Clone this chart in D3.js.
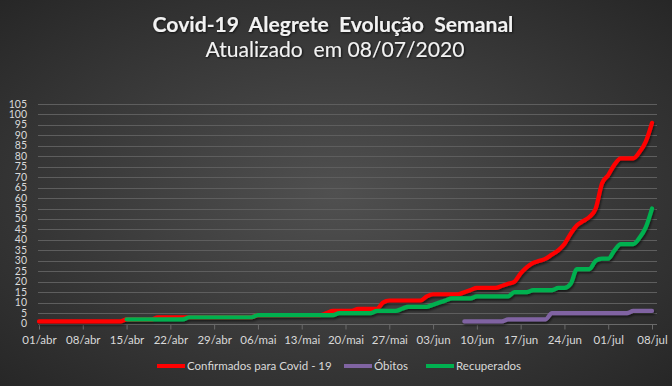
<!DOCTYPE html>
<html lang="pt">
<head>
<meta charset="utf-8">
<title>Covid-19 Alegrete Evolução Semanal</title>
<script src="https://d3js.org/d3.v7.min.js"></script>
<style>
  body { margin: 0; background: #2a2a2a; }
  svg text { font-family: Lato, "Open Sans", sans-serif; }
</style>
</head>
<body>
<svg id="chart"></svg>
<script>

// daily values
const confirmedStart = "2020-04-01";
const confirmed = [1,1,1,1,1,1,1,1,1,1,1,1,1,1,
    2,2,2,2,2,
    3,3,3,3,3,3,3,3,3,3,3,3,3,3,3,3,
    4,4,4,4,4,4,4,4,4,4,4,
    5,6,6,6,6,7,7,7,7,10,11,11,11,11,11,11,13,14,14,14,14,14,
    15,16,17,17,17,17,18,19,20,24,27,29,30,31,33,35,38,43,47,49,51,55,
    67,71,76,79,79,79,82,87,96];

const deathsStart = "2020-06-08";
const deaths = [1,1,1,1,1,1,1,2,2,2,2,2,2,2,
    5,5,5,5,5,5,5,5,5,5,5,5,5,6,6,6,6];

const recoveredStart = "2020-04-15";
const recovered = [2,2,2,2,2,2,2,2,2,2,
    3,3,3,3,3,3,3,3,3,3,3,
    4,4,4,4,4,4,4,4,4,4,4,4,4,
    5,5,5,5,5,5,6,6,6,6,7,8,8,8,8,9,10,11,12,12,12,12,
    13,13,13,13,13,13,15,15,15,16,16,16,16,17,17,19,26,26,26,30,31,31,35,
    38,38,38,41,46,55];

const seriesNames = ["Confirmados para Covid - 19", "Óbitos", "Recuperados"];
const seriesColors = ["#ff0000", "#8064a2", "#00b050"];

const tickDates = ["2020-04-01","2020-04-08","2020-04-15","2020-04-22","2020-04-29",
    "2020-05-06","2020-05-13","2020-05-20","2020-05-27","2020-06-03",
    "2020-06-10","2020-06-17","2020-06-24","2020-07-01","2020-07-08"];
const yTicks = d3.range(0, 106, 5);

const titleText = "Covid-19  Alegrete  Evolução  Semanal";
const subtitleText = "Atualizado  em 08/07/2020";

const width = 672, height = 386;
const parse = d3.timeParse("%Y-%m-%d");
const ptBR = d3.timeFormatLocale({
    dateTime: "%d/%m/%Y %H:%M:%S", date: "%d/%m/%Y", time: "%H:%M:%S",
    periods: ["AM", "PM"],
    days: ["domingo","segunda","terça","quarta","quinta","sexta","sábado"],
    shortDays: ["dom","seg","ter","qua","qui","sex","sáb"],
    months: ["janeiro","fevereiro","março","abril","maio","junho","julho","agosto","setembro","outubro","novembro","dezembro"],
    shortMonths: ["jan","fev","mar","abr","mai","jun","jul","ago","set","out","nov","dez"]
});
const fmt = ptBR.format("%d/%b");

function toPoints(start, values) {
    let d0 = parse(start);
    return values.map((v, i) => ({date: d3.timeDay.offset(d0, i), value: v}));
}
const series = [
    toPoints(confirmedStart, confirmed),
    toPoints(deathsStart, deaths),
    toPoints(recoveredStart, recovered)
];

let svg = d3.select("#chart")
    .attr("width", width)
    .attr("height", height);

let defs = svg.append("defs");
let grad = defs.append("radialGradient")
    .attr("id", "bg")
    .attr("cx", "50%").attr("cy", "50%").attr("r", "75%");
grad.append("stop").attr("offset", "0%").attr("stop-color", "#505050");
grad.append("stop").attr("offset", "100%").attr("stop-color", "#242424");

let shadow = defs.append("filter").attr("id", "shadow")
    .attr("x", "-5%").attr("y", "-5%").attr("width", "110%").attr("height", "120%");
shadow.append("feDropShadow")
    .attr("dx", 1).attr("dy", 2).attr("stdDeviation", 1.2)
    .attr("flood-color", "#000").attr("flood-opacity", 0.55);

let txtShadow = defs.append("filter").attr("id", "tshadow");
txtShadow.append("feDropShadow")
    .attr("dx", 0.8).attr("dy", 0.8).attr("stdDeviation", 0.8)
    .attr("flood-color", "#000").attr("flood-opacity", 0.8);

svg.append("rect")
    .attr("width", width).attr("height", height)
    .attr("fill", "url(#bg)");

let x = d3.scaleTime()
    .domain([parse(tickDates[0]), parse(tickDates[tickDates.length - 1])])
    .range([39, 652]);
let y = d3.scaleLinear()
    .domain([0, 105])
    .range([323.5, 104]);
const plotLeft = 38, plotRight = 657;

// gridlines
svg.append("g").attr("id", "grid")
    .selectAll("line")
    .data(yTicks.filter(v => v > 0))
    .join("line")
        .attr("x1", plotLeft).attr("x2", plotRight)
        .attr("y1", d => Math.round(y(d)) + 0.5)
        .attr("y2", d => Math.round(y(d)) + 0.5)
        .attr("stroke", "#5e5e5e")
        .attr("stroke-width", 1);

// y labels
svg.append("g").attr("id", "ylabels")
    .selectAll("text")
    .data(yTicks)
    .join("text")
        .attr("x", 27)
        .attr("y", d => y(d) + 3.5)
        .attr("text-anchor", "end")
        .attr("font-size", 10.5)
        .attr("fill", "#d9d9d9")
        .text(d => d);

// x axis
let xAxis = d3.axisBottom(x)
    .tickValues(tickDates.map(parse))
    .tickFormat(fmt)
    .tickSize(5)
    .tickPadding(6)
    .tickSizeOuter(0);
let gx = svg.append("g")
    .attr("transform", `translate(0,${Math.round(y(0)) + 0.5})`)
    .call(xAxis);
gx.select(".domain").attr("d", `M${plotLeft},0H${plotRight}`).attr("stroke", "#6a6a6a");
gx.selectAll(".tick line").attr("stroke", "#6a6a6a");
gx.selectAll(".tick text")
    .attr("fill", "#d9d9d9")
    .attr("font-size", 11.5)
    .attr("font-family", "Lato, 'Open Sans', sans-serif");

// lines
let line = d3.line()
    .x(d => x(d.date))
    .y(d => y(d.value))
    .curve(d3.curveMonotoneX);

svg.append("g").attr("id", "lines")
    .attr("filter", "url(#shadow)")
    .selectAll("path")
    .data(series)
    .join("path")
        .attr("d", line)
        .attr("fill", "none")
        .attr("stroke", (d, i) => seriesColors[i])
        .attr("stroke-width", 4.2)
        .attr("stroke-linejoin", "round")
        .attr("stroke-linecap", "round");

// titles
let title = svg.append("text")
    .attr("x", 333).attr("y", 32)
    .attr("text-anchor", "middle")
    .attr("font-size", 19)
    .attr("font-weight", "bold")
    .attr("fill", "#f2f2f2")
    .attr("filter", "url(#tshadow)")
    .style("white-space", "pre")
    .text(titleText);
let subtitle = svg.append("text")
    .attr("x", 335).attr("y", 57)
    .attr("text-anchor", "middle")
    .attr("font-size", 19)
    .attr("fill", "#f2f2f2")
    .attr("filter", "url(#tshadow)")
    .style("white-space", "pre")
    .text(subtitleText);

function fitWidth(sel, target) {
    let w = sel.node().getComputedTextLength();
    let fs = +sel.attr("font-size");
    sel.attr("font-size", fs * target / w);
}
fitWidth(title, 361);
fitWidth(subtitle, 259);

// legend
const legendX = [157, 344, 426];
let legend = svg.append("g").attr("id", "legend");
seriesNames.forEach((name, i) => {
    let g = legend.append("g").attr("transform", `translate(${legendX[i]},366)`);
    g.append("line")
        .attr("x1", 0).attr("x2", 28)
        .attr("stroke", seriesColors[i])
        .attr("stroke-width", 4);
    g.append("text")
        .attr("x", 30).attr("y", 4)
        .attr("font-size", 11.5)
        .attr("fill", "#d9d9d9")
        .text(name);
});

</script>
</body>
</html>
